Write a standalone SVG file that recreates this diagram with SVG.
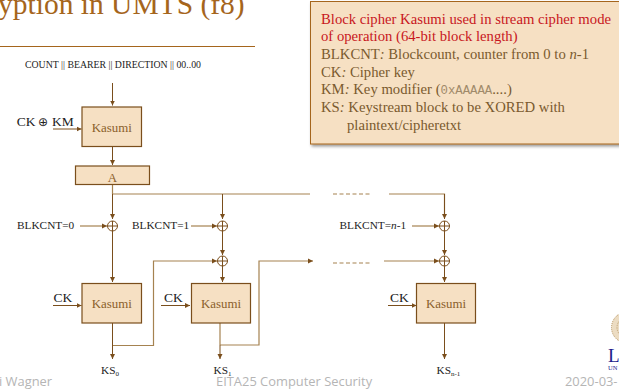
<svg xmlns="http://www.w3.org/2000/svg" width="619" height="391" viewBox="0 0 619 391">
<defs>
<marker id="a" markerUnits="userSpaceOnUse" markerWidth="6" markerHeight="6" refX="5" refY="3" orient="auto"><path d="M0 .5L5 3L0 5.500Z" fill="#7a4e1c"/></marker>
<filter id="s" x="-5%" y="-5%" width="112%" height="115%"><feDropShadow dx="1.500" dy="2" stdDeviation="1.500" flood-color="#000" flood-opacity=".4"/></filter>
</defs>
<style>
text{font-family:"Liberation Serif",serif}
.b{fill:#f6e0c3;stroke:#7a4e1c;stroke-width:1.200}
.k{font-size:12.900px;fill:#8a5f2b;text-anchor:middle}
.l{font-size:11.300px;fill:#222}
.c{font-size:13.500px;fill:#222}
.w{fill:none;stroke:#7a4e1c;stroke-width:1}
.p{fill:none;stroke:#a58250;stroke-width:1.200}
.d{fill:none;stroke:#a58250;stroke-width:1.200;stroke-dasharray:4 2.500}
.x{fill:none;stroke:#7a4e1c;stroke-width:1}
.n{font-size:14.700px;fill:#7a5a2e}
.f{font-family:"Open Sans",sans-serif;font-size:12.900px;fill:#b5b5b5}
</style>
<text x="-2" y="14" font-size="29.500" fill="#a5651c">yption in UMTS (f8)</text>
<path d="M0 46.500H255" stroke="#a5651c" stroke-width="1" fill="none"/>
<g id="connectors">
<path class="w" d="M112.500 83V105.500" marker-end="url(#a)"/>
<path class="w" d="M53 129H81.500" marker-end="url(#a)"/>
<path class="w" d="M112.500 147V165" marker-end="url(#a)"/>
<path class="p" d="M112.500 185V194"/>
<path class="p" d="M112.500 194H310M389 194H444.500V214"/>
<path class="d" d="M333 194H372"/>
<path class="w" d="M112.500 194V219" marker-end="url(#a)"/>
<path class="w" d="M222.500 194V219" marker-end="url(#a)"/>
<path class="w" d="M444.500 194V219" marker-end="url(#a)"/>
<path class="p" d="M80 226H107" marker-end="url(#a)"/>
<path class="p" d="M191 226H217" marker-end="url(#a)"/>
<path class="p" d="M412 226H439" marker-end="url(#a)"/>
<path class="w" d="M112.500 231V282" marker-end="url(#a)"/>
<path class="w" d="M222.500 231V255" marker-end="url(#a)"/>
<path class="w" d="M444.500 231V255" marker-end="url(#a)"/>
<path class="w" d="M222.500 266V282" marker-end="url(#a)"/>
<path class="w" d="M444.500 266V282" marker-end="url(#a)"/>
<path class="p" d="M112.500 345.500H153.500V261H217" marker-end="url(#a)"/>
<path class="p" d="M220 345H259V261H313" marker-end="url(#a)"/>
<path class="d" d="M333 263H372"/>
<path class="p" d="M384 261H439" marker-end="url(#a)"/>
<path class="w" d="M53 305.500H81.500" marker-end="url(#a)"/>
<path class="w" d="M161 305.500H190" marker-end="url(#a)"/>
<path class="w" d="M388 305.500H416.500" marker-end="url(#a)"/>
<path class="w" d="M112.500 323V359" marker-end="url(#a)"/>
<path class="p" d="M220 323V345"/><path class="w" d="M220 345V359" marker-end="url(#a)"/>
<path class="w" d="M444.500 323V359" marker-end="url(#a)"/>
</g>
<g id="xor1" class="x"><circle cx="112.500" cy="226" r="5"/><path d="M107.500 226H117.500M112.500 221V231"/></g>
<g id="xor2" class="x"><circle cx="222.500" cy="226" r="5"/><path d="M217.500 226H227.500M222.500 221V231"/></g>
<g id="xor3" class="x"><circle cx="222.500" cy="261" r="5"/><path d="M217.500 261H227.500M222.500 256V266"/></g>
<g id="xor4" class="x"><circle cx="444.500" cy="226" r="5"/><path d="M439.500 226H449.500M444.500 221V231"/></g>
<g id="xor5" class="x"><circle cx="444.500" cy="261" r="5"/><path d="M439.500 261H449.500M444.500 256V266"/></g>
<g id="kasumi0"><rect class="b" x="82" y="107" width="59.500" height="39.500"/><text class="k" x="111.700" y="132">Kasumi</text></g>
<g id="a-box"><rect class="b" x="75.500" y="166" width="74" height="18.500"/><text class="k" x="112.500" y="182">A</text></g>
<g id="kasumi1"><rect class="b" x="82" y="283.500" width="59.500" height="39.500"/><text class="k" x="111.700" y="308">Kasumi</text></g>
<g id="kasumi2"><rect class="b" x="191.500" y="283.500" width="59" height="39.500"/><text class="k" x="221" y="308">Kasumi</text></g>
<g id="kasumi3"><rect class="b" x="416.500" y="283.500" width="59" height="39.500"/><text class="k" x="446" y="308">Kasumi</text></g>
<g id="labels">
<text x="25" y="68" font-size="9.800" fill="#222">COUNT || BEARER || DIRECTION || 00..00</text>
<text class="c" x="16.700" y="126">CK <tspan x="38" font-family="DejaVu Sans" font-size="12">⊕</tspan> <tspan x="52">KM</tspan></text>
<text class="l" x="17" y="228.500">BLKCNT=0</text>
<text class="l" x="132" y="228.500">BLKCNT=1</text>
<text class="l" x="339.500" y="228.500">BLKCNT=<tspan font-style="italic">n</tspan>-1</text>
<text class="c" x="53.500" y="302">CK</text>
<text class="c" x="164" y="302">CK</text>
<text class="c" x="390" y="302">CK</text>
<text class="l" x="101" y="374">KS<tspan font-size="7" dy="2">0</tspan></text>
<text class="l" x="213.500" y="374">KS<tspan font-size="7" dy="2">1</tspan></text>
<text class="l" x="436.500" y="374">KS<tspan font-size="7" dy="2">n-1</tspan></text>
</g>
<g id="note">
<rect x="310.500" y="1.500" width="312" height="142.500" fill="#f6e0c3" stroke="#a5651c" stroke-width="1" filter="url(#s)"/>
<text class="n" x="321" y="24" style="fill:#c8161d">Block cipher Kasumi used in stream cipher mode</text>
<text class="n" x="321" y="41" style="fill:#c8161d">of operation (64-bit block length)</text>
<text class="n" x="321" y="59">BLKCNT<tspan font-style="italic">:</tspan> Blockcount, counter from 0 to <tspan font-style="italic">n</tspan>-1</text>
<text class="n" x="321" y="77">CK<tspan font-style="italic">:</tspan> Cipher key</text>
<text class="n" x="321" y="94">KM<tspan font-style="italic">:</tspan> Key modifier (<tspan font-family="Liberation Mono" font-size="12.300" fill="#a08a6a">0xAAAAA</tspan>....)</text>
<text class="n" x="321" y="112">KS<tspan font-style="italic">:</tspan> Keystream block to be XORED with</text>
<text class="n" x="347" y="130">plaintext/cipheretxt</text>
</g>
<g id="footer">
<text class="f" x="-1" y="386">i Wagner</text>
<text class="f" x="216" y="386">EITA25 Computer Security</text>
<text class="f" x="565" y="386">2020-03-</text>
</g>
<g id="logo">
<circle cx="627" cy="327.500" r="15.500" fill="#ecdcc2" stroke="#b5935f" stroke-dasharray="1 1"/>
<circle cx="627" cy="327.500" r="10" fill="none" stroke="#c0a478" stroke-dasharray="1.500 1"/>
<text x="608" y="362" font-size="19" fill="#1c1c8c">L</text>
<text x="608" y="370" font-size="6.500" fill="#1c1c8c">UN</text>
</g>
</svg>
